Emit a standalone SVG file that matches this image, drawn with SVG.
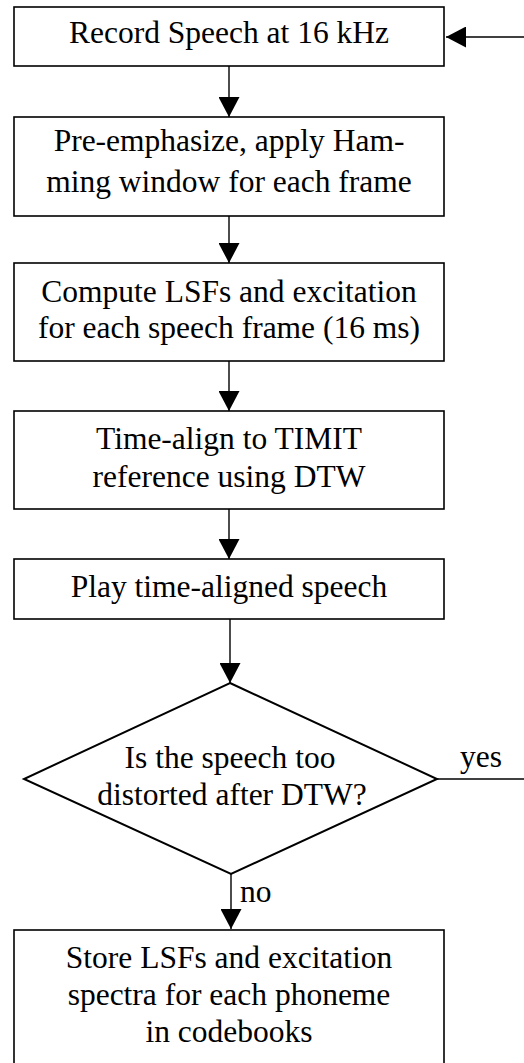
<svg xmlns="http://www.w3.org/2000/svg" width="524" height="1063" viewBox="0 0 524 1063">
<style>
.box{fill:#fff;stroke:#000;stroke-width:1.6}
.dia{fill:#fff;stroke:#000;stroke-width:2}
.t{font-family:"Liberation Serif","Times New Roman",serif;font-size:31.5px;fill:#000;text-anchor:middle}
.l{font-family:"Liberation Serif","Times New Roman",serif;font-size:31.5px;fill:#000}
.c{fill:none;stroke:#000;stroke-width:1.4}
</style>
<defs>
<marker id="ah" markerUnits="userSpaceOnUse" markerWidth="20" markerHeight="21" refX="20" refY="10.5" orient="auto">
<path d="M0,0 L20,10.5 L0,21 z" fill="#000"/>
</marker>
</defs>
<rect width="524" height="1063" fill="#fff"/>
<g id="connectors">
<line class="c" x1="229" y1="66" x2="229" y2="117" marker-end="url(#ah)"/>
<line class="c" x1="229" y1="216" x2="229" y2="263" marker-end="url(#ah)"/>
<line class="c" x1="229" y1="361" x2="229" y2="411" marker-end="url(#ah)"/>
<line class="c" x1="229" y1="509" x2="229" y2="559" marker-end="url(#ah)"/>
<line class="c" x1="230" y1="619" x2="230" y2="683" marker-end="url(#ah)"/>
<line class="c" x1="231" y1="874" x2="231" y2="929" marker-end="url(#ah)"/>
<line class="c" x1="437" y1="779" x2="524" y2="779"/>
<line class="c" x1="524" y1="37" x2="446" y2="37" marker-end="url(#ah)"/>
<text class="l" x="460" y="767">yes</text>
<text class="l" x="240" y="902">no</text>
</g>
<g id="n1">
<rect class="box" x="14" y="7" width="430" height="59"/>
<text class="t" x="229" y="43">Record Speech at 16 kHz</text>
</g>
<g id="n2">
<rect class="box" x="14" y="117" width="430" height="99"/>
<text class="t" x="229" y="151">Pre-emphasize, apply Ham-</text>
<text class="t" x="229" y="192">ming window for each frame</text>
</g>
<g id="n3">
<rect class="box" x="14" y="263" width="430" height="98"/>
<text class="t" x="229" y="302">Compute LSFs and excitation</text>
<text class="t" x="229" y="338">for each speech frame (16 ms)</text>
</g>
<g id="n4">
<rect class="box" x="14" y="411" width="430" height="98"/>
<text class="t" x="229" y="449">Time-align to TIMIT</text>
<text class="t" x="229" y="487">reference using DTW</text>
</g>
<g id="n5">
<rect class="box" x="14" y="559" width="430" height="60"/>
<text class="t" x="229" y="597">Play time-aligned speech</text>
</g>
<g id="n6">
<polygon class="dia" points="230,683 437,779 231,874 24,779"/>
<text class="t" x="230" y="768">Is the speech too</text>
<text class="t" x="232" y="805">distorted after DTW?</text>
</g>
<g id="n7">
<rect class="box" x="14" y="930" width="430" height="145"/>
<text class="t" x="229" y="968">Store LSFs and excitation</text>
<text class="t" x="229" y="1005">spectra for each phoneme</text>
<text class="t" x="229" y="1042">in codebooks</text>
</g>
</svg>
